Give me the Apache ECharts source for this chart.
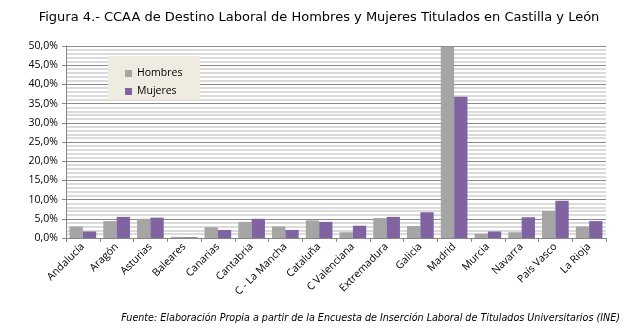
<!DOCTYPE html>
<html>
<head>
<meta charset="utf-8">
<script src="https://cdn.jsdelivr.net/npm/echarts@6/dist/echarts.min.js"></script>
<style>
  html, body { margin: 0; padding: 0; background: #fff; }
  #chart { width: 638px; height: 332px; }
</style>
</head>
<body>
<div id="chart"></div>
<script>
// Comunidades autónomas de destino
const categories = ['Andalucía', 'Aragón', 'Asturias', 'Baleares', 'Canarias', 'Cantabria',
  'C - La Mancha', 'Cataluña', 'C Valenciana', 'Extremadura', 'Galicia', 'Madrid',
  'Murcia', 'Navarra', 'País Vasco', 'La Rioja'];
// Porcentaje de titulados por CCAA
const hombres = [3.0, 4.4, 5.0, 0.3, 2.8, 4.2, 3.0, 4.6, 1.5, 5.2, 3.1, 49.8, 1.1, 1.5, 7.0, 3.0];
const mujeres = [1.7, 5.5, 5.3, 0.2, 2.1, 5.0, 2.1, 4.2, 3.2, 5.5, 6.7, 36.8, 1.7, 5.4, 9.7, 4.4];
const yTicks = { min: 0, max: 50, interval: 5 };

const fmt = v => v.toFixed(1).replace('.', ',') + '%';
const font = "'Open Sans', 'DejaVu Sans', sans-serif";
const titleFont = "'DejaVu Sans', sans-serif";

const chart = echarts.init(document.getElementById('chart'));
chart.setOption({
  animation: false,
  title: [{
    text: 'Figura 4.- CCAA de Destino Laboral de Hombres y Mujeres Titulados en Castilla y León',
    left: 'center', top: 6,
    textStyle: { fontFamily: titleFont, fontSize: 13, fontWeight: 'normal', color: '#000' }
  }, {
    text: 'Fuente: Elaboración Propia a partir de la Encuesta de Inserción Laboral de Titulados Universitarios (INE)',
    right: 13, top: 308,
    textStyle: { fontFamily: titleFont, fontSize: 9.6, fontWeight: 'normal', fontStyle: 'italic', color: '#000' }
  }],
  graphic: [{
    type: 'rect', left: 108, top: 56,
    shape: { width: 92, height: 44 },
    style: { fill: '#EEECE1' }, z: 5
  }],
  legend: {
    orient: 'vertical', left: 120, top: 63, itemGap: 7,
    itemWidth: 7, itemHeight: 7, icon: 'rect', z: 10,
    textStyle: { fontFamily: font, fontSize: 10.5, color: '#000' },
    data: ['Hombres', 'Mujeres']
  },
  grid: { left: 66, right: 32, top: 46, bottom: 94, containLabel: false },
  xAxis: {
    type: 'category', data: categories,
    axisLine: { lineStyle: { color: '#868686' } },
    axisTick: { show: true, length: 4, lineStyle: { color: '#868686' } },
    axisLabel: { rotate: 45, interval: 0, fontFamily: font, fontSize: 10.5, color: '#000', margin: 7 }
  },
  yAxis: {
    type: 'value', min: yTicks.min, max: yTicks.max, interval: yTicks.interval,
    axisLine: { show: true, lineStyle: { color: '#868686' } },
    axisTick: { show: true, length: 4, lineStyle: { color: '#868686' } },
    axisLabel: { formatter: fmt, fontFamily: font, fontSize: 10.5, color: '#000', margin: 8 },
    splitLine: { lineStyle: { color: '#8a8a8a', width: 1 } },
    minorTick: { show: false, splitNumber: 5 },
    minorSplitLine: { show: true, lineStyle: { color: '#cfcfcf', width: 1.5 } }
  },
  series: [{
    name: 'Hombres', type: 'bar', data: hombres,
    barGap: '0%', barCategoryGap: '21%',
    itemStyle: { color: '#A5A5A5' }
  }, {
    name: 'Mujeres', type: 'bar', data: mujeres,
    barGap: '0%', barCategoryGap: '21%',
    itemStyle: { color: '#8064A2' }
  }]
});
</script>
</body>
</html>
